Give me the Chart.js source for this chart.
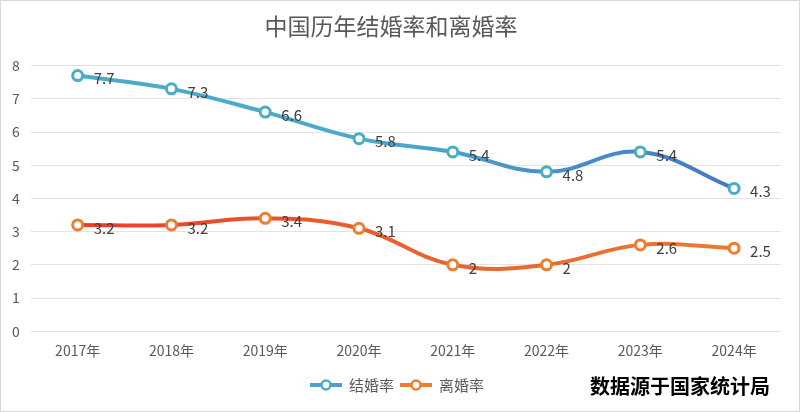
<!DOCTYPE html>
<html>
<head>
<meta charset="utf-8">
<script src="https://cdn.jsdelivr.net/npm/chart.js@4"></script>
<style>
  html, body { margin: 0; padding: 0; background: #fff; }
  #wrap { position: relative; width: 798px; height: 410px; border: 1px solid #d9d9d9; }
</style>
</head>
<body>
<div id="wrap"><canvas id="chart"></canvas></div>
<script>
const years = ["2017年", "2018年", "2019年", "2020年", "2021年", "2022年", "2023年", "2024年"];
const marriageRate = [7.7, 7.3, 6.6, 5.8, 5.4, 4.8, 5.4, 4.3];
const divorceRate = [3.2, 3.2, 3.4, 3.1, 2, 2, 2.6, 2.5];
const seriesNames = ["结婚率", "离婚率"];
const sourceText = "数据源于国家统计局";

const FONT = "'Noto Sans CJK SC', 'Noto Sans', sans-serif";

function gradient(ctx, stops) {
  const area = ctx.chart.chartArea;
  if (!area) return stops[0][1];
  const g = ctx.chart.ctx.createLinearGradient(area.left, 0, area.right, 0);
  stops.forEach(s => g.addColorStop(s[0], s[1]));
  return g;
}

// value labels to the right of each point
const valueLabels = {
  id: "valueLabels",
  afterDatasetsDraw(chart) {
    const c = chart.ctx;
    c.save();
    c.font = "15px " + FONT;
    c.fillStyle = "#404040";
    c.textAlign = "left";
    c.textBaseline = "middle";
    chart.data.datasets.forEach((ds, i) => {
      chart.getDatasetMeta(i).data.forEach((pt, j) => {
        c.fillText(String(ds.data[j]), pt.x + 16, pt.y + 3);
      });
    });
    c.restore();
  }
};

// legend with line + circle marker, and the source note
const bottomNotes = {
  id: "bottomNotes",
  afterDraw(chart) {
    const c = chart.ctx;
    const y = 384;
    const colors = [["#4bacc6", "#4a9fd0"], ["#e8452c", "#ed7d31"]];
    c.save();
    c.font = "15px " + FONT;
    c.textBaseline = "middle";
    c.textAlign = "left";
    let x = 309;
    seriesNames.forEach((name, i) => {
      c.strokeStyle = colors[i][1];
      c.lineWidth = 4;
      c.beginPath();
      c.moveTo(x, y);
      c.lineTo(x + 32, y);
      c.stroke();
      c.beginPath();
      c.arc(x + 16, y, 4.5, 0, Math.PI * 2);
      c.fillStyle = "#fff";
      c.fill();
      c.lineWidth = 2.5;
      c.strokeStyle = i === 0 ? "#4bacc6" : "#ed7d31";
      c.stroke();
      c.fillStyle = "#595959";
      c.fillText(name, x + 39, y);
      x += 39 + c.measureText(name).width + 6;
    });
    c.font = "bold 20px " + FONT;
    c.fillStyle = "#000";
    c.fillText(sourceText, 589, y + 1);
    c.restore();
  }
};

new Chart(document.getElementById("chart"), {
  type: "line",
  data: {
    labels: years,
    datasets: [
      {
        label: seriesNames[0],
        data: marriageRate,
        borderColor: ctx => gradient(ctx, [[0, "#4bacc6"], [0.45, "#4aaacb"], [1, "#4472c4"]]),
        borderWidth: 4,
        tension: 0.4,
        pointRadius: 5,
        pointBorderWidth: 3,
        pointBackgroundColor: "#fff",
        pointBorderColor: "#4bacc6"
      },
      {
        label: seriesNames[1],
        data: divorceRate,
        borderColor: ctx => gradient(ctx, [[0, "#e8392b"], [0.4, "#ea5a2e"], [1, "#ed7d31"]]),
        borderWidth: 4,
        tension: 0.4,
        pointRadius: 5,
        pointBorderWidth: 3,
        pointBackgroundColor: "#fff",
        pointBorderColor: "#ed7d31"
      }
    ]
  },
  options: {
    responsive: true,
    maintainAspectRatio: false,
    animation: false,
    layout: { padding: { left: 0, right: 18, top: 0, bottom: 49 } },
    plugins: {
      legend: { display: false },
      tooltip: { enabled: false },
      title: {
        display: true,
        text: "中国历年结婚率和离婚率",
        color: "#595959",
        font: { family: FONT, size: 23, weight: "normal" },
        padding: { top: 11, bottom: 26 }
      }
    },
    scales: {
      x: {
        offset: true,
        grid: { display: false },
        border: { display: false },
        ticks: { color: "#595959", font: { family: FONT, size: 14 }, padding: 3 }
      },
      y: {
        min: 0,
        max: 8,
        ticks: { stepSize: 1, color: "#595959", font: { family: FONT, size: 14 }, padding: 11 },
        grid: { color: "#e3e3e3", drawTicks: false },
        border: { display: false }
      }
    }
  },
  plugins: [valueLabels, bottomNotes]
});
</script>
</body>
</html>
